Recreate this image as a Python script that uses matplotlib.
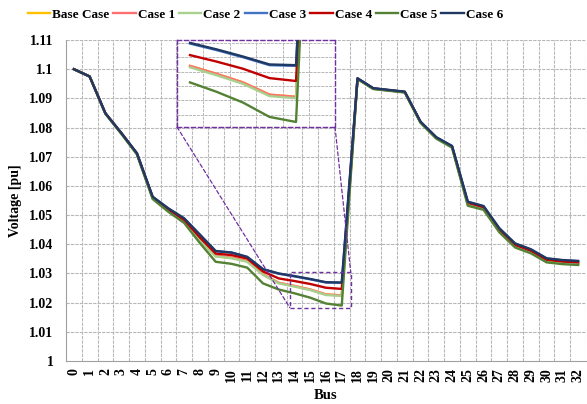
import numpy as np
import matplotlib
matplotlib.use("Agg")
import matplotlib.pyplot as plt
from matplotlib.patches import Rectangle, ConnectionPatch

plt.rcParams["font.family"] = ["Liberation Serif", "DejaVu Serif"]
plt.rcParams["font.weight"] = "bold"

bus = list(range(33))

base_case = [1.1000, 1.0975, 1.0848, 1.0781, 1.0710, 1.0559, 1.0516, 1.0479, 1.0416, 1.0360,
             1.0354, 1.0342, 1.0297, 1.0268, 1.0257, 1.0245, 1.0228, 1.0225, 1.0967, 1.0933,
             1.0927, 1.0921, 1.0818, 1.0764, 1.0733, 1.0538, 1.0523, 1.0446, 1.0394, 1.0374,
             1.0343, 1.0337, 1.0334]
case1 = [1.1000, 1.0975, 1.0848, 1.0781, 1.0710, 1.0559, 1.0516, 1.0479, 1.0416, 1.0360,
         1.0354, 1.0342, 1.0297, 1.0268, 1.0257, 1.0245, 1.0228, 1.0225, 1.0967, 1.0933,
         1.0927, 1.0921, 1.0818, 1.0764, 1.0733, 1.0538, 1.0523, 1.0446, 1.0394, 1.0374,
         1.0343, 1.0337, 1.0334]
case2 = [1.1000, 1.0975, 1.0848, 1.0781, 1.0710, 1.0558, 1.0515, 1.0478, 1.0414, 1.0358,
         1.0352, 1.0340, 1.0295, 1.0266, 1.0255, 1.0243, 1.0226, 1.0223, 1.0967, 1.0933,
         1.0927, 1.0921, 1.0817, 1.0763, 1.0732, 1.0537, 1.0522, 1.0445, 1.0393, 1.0373,
         1.0342, 1.0336, 1.0333]
case3 = [1.1000, 1.0975, 1.0849, 1.0782, 1.0712, 1.0562, 1.0522, 1.0488, 1.0432, 1.0376,
         1.0371, 1.0356, 1.0314, 1.0299, 1.0290, 1.0280, 1.0269, 1.0268, 1.0968, 1.0934,
         1.0928, 1.0922, 1.0819, 1.0766, 1.0736, 1.0545, 1.0530, 1.0454, 1.0402, 1.0382,
         1.0351, 1.0345, 1.0342]
case4 = [1.1000, 1.0975, 1.0849, 1.0782, 1.0711, 1.0561, 1.0519, 1.0483, 1.0423, 1.0368,
         1.0363, 1.0351, 1.0307, 1.0283, 1.0274, 1.0264, 1.0251, 1.0247, 1.0968, 1.0934,
         1.0928, 1.0922, 1.0819, 1.0765, 1.0735, 1.0542, 1.0527, 1.0450, 1.0398, 1.0378,
         1.0347, 1.0341, 1.0338]
case5 = [1.1000, 1.0975, 1.0847, 1.0779, 1.0708, 1.0555, 1.0511, 1.0473, 1.0404, 1.0340,
         1.0333, 1.0320, 1.0266, 1.0245, 1.0232, 1.0217, 1.0197, 1.0190, 1.0966, 1.0932,
         1.0926, 1.0920, 1.0816, 1.0762, 1.0731, 1.0532, 1.0518, 1.0441, 1.0389, 1.0369,
         1.0338, 1.0332, 1.0329]
case6 = [1.1000, 1.0975, 1.0849, 1.0782, 1.0712, 1.0563, 1.0523, 1.0489, 1.0433, 1.0377,
         1.0372, 1.0357, 1.0315, 1.0300, 1.0291, 1.0281, 1.0270, 1.0269, 1.0969, 1.0935,
         1.0929, 1.0923, 1.0820, 1.0767, 1.0737, 1.0546, 1.0531, 1.0455, 1.0403, 1.0383,
         1.0352, 1.0346, 1.0343]

labels = ["Base Case", "Case 1", "Case 2", "Case 3", "Case 4", "Case 5", "Case 6"]
series = [base_case, case1, case2, case3, case4, case5, case6]
colors = ["#FFC000", "#FF6F6F", "#A9D18E", "#4472C4", "#C00000", "#548235", "#203864"]

y_ticks = [1.0, 1.01, 1.02, 1.03, 1.04, 1.05, 1.06, 1.07, 1.08, 1.09, 1.1, 1.11]
y_ticklabels = ["1", "1.01", "1.02", "1.03", "1.04", "1.05", "1.06", "1.07", "1.08",
                "1.09", "1.1", "1.11"]

# buses shown in the zoomed inset
inset_first, inset_last = 13, 18

purple = "#7030A0"
grid_c = "#b8b8b8"

fig = plt.figure(figsize=(5.87, 4.04), dpi=100)
ax = fig.add_axes([66 / 587, 1 - 361 / 404, 520 / 587, 321 / 404])

for lab, vals, c in zip(labels, series, colors):
    ax.plot(bus, vals, color=c, lw=1.7, label=lab, zorder=3)

ax.set_xlim(-0.5, 32.5)
ax.set_ylim(1.0, 1.11)
ax.set_yticks(y_ticks)
ax.set_yticklabels(y_ticklabels, fontsize=10, fontweight="bold")
ax.set_xticks(bus)
ax.set_xticklabels([str(b) for b in bus], rotation=90, fontsize=10, fontweight="bold")
ax.tick_params(axis="y", length=0, pad=9)
ax.tick_params(axis="x", length=0, pad=5)
for y in y_ticks[1:]:
    ax.axhline(y, color=grid_c, lw=0.8, ls=(0, (3, 1)), zorder=1)
for x in np.arange(0.5, 33, 1.0):
    ax.axvline(x, color=grid_c, lw=0.8, ls=(0, (3, 1)), zorder=1)
for s in ["top", "right"]:
    ax.spines[s].set_visible(False)
for s in ["left", "bottom"]:
    ax.spines[s].set_color("#a0a0a0")
    ax.spines[s].set_linewidth(0.8)
ax.set_ylabel("Voltage [pu]", fontsize=10, fontweight="bold", labelpad=5)
ax.set_xlabel("Bus", fontsize=10.5, fontweight="bold", labelpad=5)

# zoom box on the main chart
box_x0, box_x1 = 13.7, 17.57
box_y0, box_y1 = 1.0183, 1.0304
ax.add_patch(Rectangle((box_x0, box_y0), box_x1 - box_x0, box_y1 - box_y0,
                       fill=False, ec=purple, lw=1.0, ls=(0, (3, 2)), zorder=4))

# inset
axin = fig.add_axes([177 / 587, 1 - 127 / 404, 158 / 587, 87 / 404])
for vals, c in zip(series, colors):
    axin.plot(bus[inset_first:inset_last + 1], vals[inset_first:inset_last + 1],
              color=c, lw=1.7, zorder=3)
axin.set_xlim(12.51, 18.47)
axin.set_ylim(box_y0, box_y1)
axin.set_xticks([])
axin.set_yticks([])
for y in [1.020, 1.022, 1.024, 1.026, 1.028, 1.030]:
    axin.axhline(y, color=grid_c, lw=0.7, ls=(0, (3, 1)), zorder=1)
for x in np.arange(12.5, 19, 1.0):
    axin.axvline(x, color=grid_c, lw=0.7, ls=(0, (3, 1)), zorder=1)
for s in axin.spines.values():
    s.set_color(purple)
    s.set_linestyle((0, (3, 2)))
    s.set_linewidth(1.0)

con1 = ConnectionPatch(xyA=(0, 0), coordsA=axin.transAxes,
                       xyB=(box_x0, box_y0), coordsB=ax.transData,
                       color=purple, lw=0.9, ls=(0, (3, 2)), zorder=4)
con2 = ConnectionPatch(xyA=(1, 0), coordsA=axin.transAxes,
                       xyB=(box_x1, box_y1), coordsB=ax.transData,
                       color=purple, lw=0.9, ls=(0, (3, 2)), zorder=4)
fig.add_artist(con1)
fig.add_artist(con2)

fig.legend(loc="center left", bbox_to_anchor=(0.027, 0.963), ncol=7, frameon=False,
           handlelength=1.7, handletextpad=0.15, columnspacing=0.3,
           prop={"weight": "bold", "size": 9.5})

fig.savefig("out.png", dpi=100)
